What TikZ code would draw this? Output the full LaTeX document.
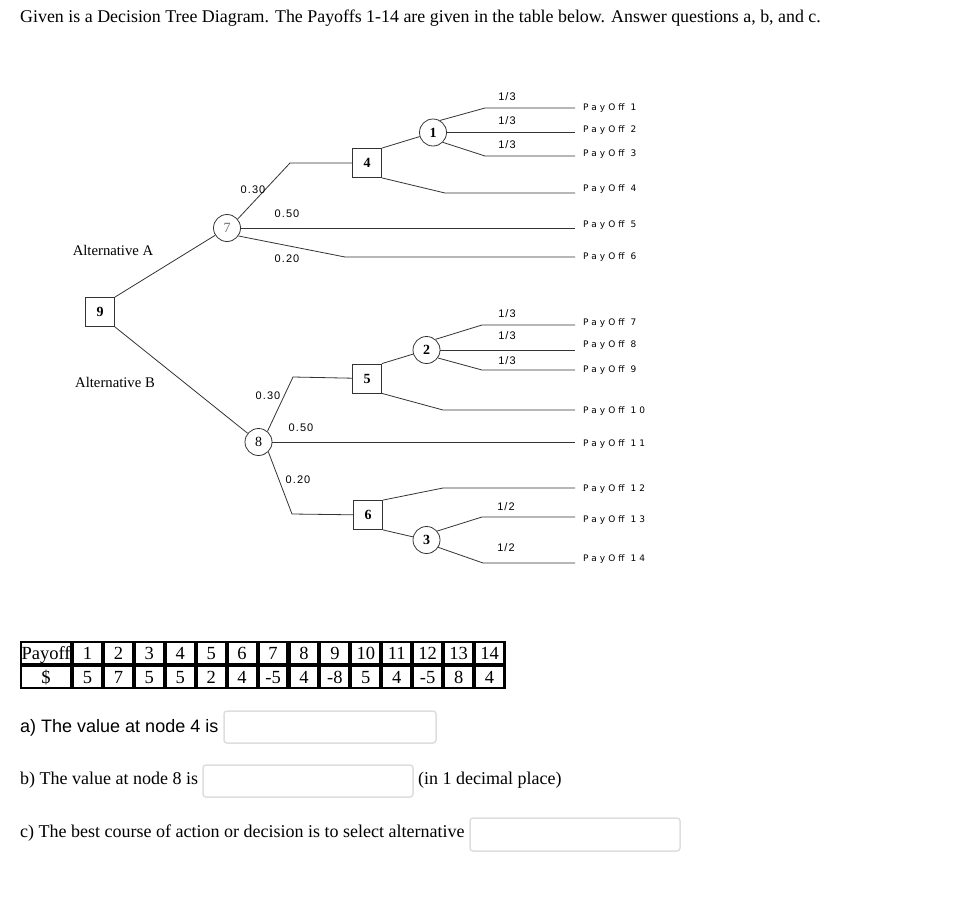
\documentclass[tikz,border=0pt]{standalone}
\usepackage{fontspec}
\setmainfont{Liberation Serif}
\newfontfamily\arialf{Liberation Sans}
\newfontfamily\probf[LetterSpace=10]{Liberation Sans}
\newfontfamily\payf[LetterSpace=34]{DejaVu Sans}
\usepackage{xcolor}
\usetikzlibrary{positioning,calc}
\definecolor{ink}{HTML}{333333}
\definecolor{fieldg}{HTML}{DEDEDE}
\tikzset{
  dec/.style={draw=ink,fill=white,line width=0.8pt,minimum size=29pt,inner sep=0pt,font=\fontsize{14}{14}\selectfont\bfseries},
  chance/.style={draw=ink,fill=white,circle,line width=0.8pt,minimum size=27pt,inner sep=0pt,font=\fontsize{14}{14}\selectfont\bfseries},
  br/.style={draw=ink,line width=0.8pt},
  prob/.style={font=\probf\fontsize{11}{11}\selectfont,inner sep=0pt},
  pay/.style={font=\payf\fontsize{9}{9}\selectfont,inner sep=0pt,anchor=west,text height=6.5pt,text depth=0pt},
  alt/.style={font=\fontsize{14.7}{14.7}\selectfont,inner sep=0pt},
  cell/.style={fill=white,inner sep=0pt,minimum width=26.9pt,minimum height=20pt,text height=12.5pt,text depth=0pt,font=\fontsize{18.5}{18.5}\selectfont},
  ans/.style={draw=fieldg,line width=1.5pt,rounded corners=3pt,inner sep=0pt},
  qtxt/.style={anchor=base west,inner sep=0pt,font=\fontsize{18}{18}\selectfont},
}

\begin{document}
\begin{tikzpicture}[x=1pt,y=-1pt]
\useasboundingbox (0,0) rectangle (964,918);
\fill[white] (0,0) rectangle (964,918);
\node[qtxt,font=\fontsize{17.9}{17.9}\selectfont] (ttl) at (20,22.5) {Given is a Decision Tree Diagram. The Payoffs 1-14 are given in the table below. Answer questions a, b, and c.};
% tree nodes
\node[dec] (n9) at (100,312) {9};
\node[chance,font=\fontsize{14}{14}\selectfont\color{ink!70}] (n7) at (227,228) {7};
\node[chance,font=\fontsize{14}{14}\selectfont] (n8) at (258.5,442) {8};
\node[dec] (n4) at (367,163) {4};
\node[dec] (n5) at (367,378.5) {5};
\node[dec] (n6) at (368,515) {6};
\node[chance] (n1) at (433,132.5) {1};
\node[chance] (n2) at (426.5,350) {2};
\node[chance] (n3) at (426.5,540) {3};
\node[alt] (altA) at (113,250) {Alternative A};
\node[alt] (altB) at (115,382) {Alternative B};
% elbows
\coordinate (k7a) at (290,163);
\coordinate (k7c) at (345,257);
\coordinate (k4b) at (445,193);
\coordinate (k1a) at (485,108);
\coordinate (k1c) at (485,156);
\coordinate (k8a) at (293,377);
\coordinate (k8c) at (292,514);
\coordinate (k2a) at (482,325);
\coordinate (k2c) at (482,370);
\coordinate (k5b) at (443,410);
\coordinate (k6a) at (443,488);
\coordinate (k3a) at (482,517);
\coordinate (k3c) at (483,563);
% payoff ends and labels
\foreach \i/\ey/\ly in {1/108/107,2/132.5/129,3/156/153,4/193/188,5/228/224,6/257/256,7/325/322,8/350/344,9/370/369,10/410/410,11/442/443,12/488/488,13/517/519,14/563/558} {
  \coordinate (e\i) at (575,\ey);
  \node[pay] (pay\i) at (583,\ly) {PayOff \i};
}
% branches
\draw[br] (n9.north east) -- (n7);
\draw[br] (n9.south east) -- (n8);
\draw[br] (n7.40) -- (k7a) -- (n4);
\draw[br] (n7.east) -- (e5);
\draw[br] (n7.-35) -- (k7c) -- (e6);
\draw[br] (n4.north east) -- (n1);
\draw[br] (n4.south east) -- (k4b) -- (e4);
\draw[br] (n1.60) -- (k1a) -- (e1);
\draw[br] (n1.east) -- (e2);
\draw[br] (n1.-45) -- (k1c) -- (e3);
\draw[br] (n8.50) -- (k8a) -- (n5);
\draw[br] (n8.east) -- (e11);
\draw[br] (n8.-45) -- (k8c) -- (n6);
\draw[br] (n5.north east) -- (n2);
\draw[br] (n5.south east) -- (k5b) -- (e10);
\draw[br] (n2.50) -- (k2a) -- (e7);
\draw[br] (n2.east) -- (e8);
\draw[br] (n2.-35) -- (k2c) -- (e9);
\draw[br] (n6.north east) -- (k6a) -- (e12);
\draw[br] (n6.south east) -- (n3);
\draw[br] (n3.40) -- (k3a) -- (e13);
\draw[br] (n3.-32) -- (k3c) -- (e14);
% probabilities
\node[prob] (pa1) at (253,190) {0.30};
\node[prob] (pa2) at (287,214) {0.50};
\node[prob] (pa3) at (287,259) {0.20};
\node[prob] (pb1) at (268,396) {0.30};
\node[prob] (pb2) at (301,428) {0.50};
\node[prob] (pb3) at (298,480) {0.20};
\node[prob] (q11) at (507,97) {1/3};
\node[prob] (q12) at (507,121) {1/3};
\node[prob] (q13) at (507,145) {1/3};
\node[prob] (q21) at (507,314) {1/3};
\node[prob] (q22) at (507,336) {1/3};
\node[prob] (q23) at (507,361) {1/3};
\node[prob] (q31) at (506,507) {1/2};
\node[prob] (q32) at (506,548) {1/2};
% payoff table
\fill[black] (20,641) rectangle (506,689);
\node[cell,minimum width=48pt] (hdp) at (46,653) {Payoff};
\node[cell,minimum width=48pt] (hdd) at (46,677) {\$};
\foreach \v [count=\i] in {5,7,5,5,2,4,-5,4,-8,5,4,-5,8,4} {
  \node[cell] (hd\i) at ({72+30.93*(\i-0.5)},653) {\i};
  \node[cell] (vl\i) at ({72+30.93*(\i-0.5)},677) {\v};
}
% questions
\node[qtxt,font=\arialf\fontsize{18}{18}\selectfont] (qa) at (20,732) {a) The value at node 4 is};
\node[ans,minimum width=212pt,minimum height=32pt] (fa) at (330,727) {};
\node[qtxt] (qb) at (20,784) {b) The value at node 8 is};
\node[ans,minimum width=210pt,minimum height=32pt] (fb) at (308,781) {};
\node[qtxt] (qbn) at (418,784) {(in 1 decimal place)};
\node[qtxt] (qc) at (20,837) {c) The best course of action or decision is to select alternative};
\node[ans,minimum width=210pt,minimum height=33pt] (fc) at (575,834.5) {};
\end{tikzpicture}
\end{document}
